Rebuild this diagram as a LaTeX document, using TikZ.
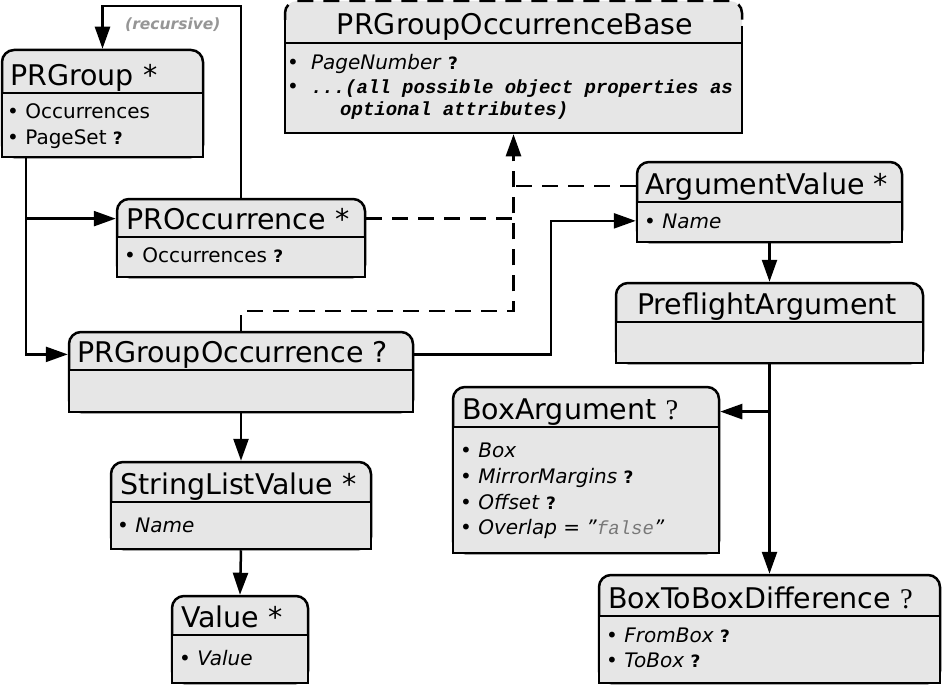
\documentclass[tikz,border=0pt]{standalone}
\usepackage{fontspec}
\setmainfont{DejaVu Sans}
\newfontfamily\monofont{Liberation Mono}
\newfontfamily\seriffont{Liberation Serif}
\usetikzlibrary{arrows.meta,fit}
\definecolor{boxgrey}{RGB}{230,230,230}
\definecolor{notegrey}{RGB}{150,150,150}
\definecolor{valgrey}{RGB}{120,120,120}
\newcommand{\optmark}{{\fontsize{17}{19}\selectfont\bfseries ?}}
\newcommand{\serifq}{{\seriffont ?}}
\newcommand{\monobi}{\monofont\bfseries\itshape\fontsize{19}{22}\selectfont}
\newcommand{\dquote}{\textit{\char"22}}

\tikzset{
  classbox/.style={draw, fill=boxgrey, line width=2.5pt, rounded corners=12pt, inner sep=0pt},
  bodybox/.style={draw, fill=boxgrey, line width=2.5pt},
  classtitle/.style={anchor=base west, inner sep=0pt, font=\fontsize{28.5}{32}\selectfont},
  attrline/.style={anchor=base west, inner sep=0pt, font=\fontsize{20}{24}\selectfont},
  conn/.style={line width=2.5pt, -{Triangle[length=22pt,width=15pt]}},
  dconn/.style={conn, dash pattern=on 16pt off 10pt},
}

\begin{document}
\begin{tikzpicture}[x=1pt, y=-1pt]
  \useasboundingbox (0,0) rectangle (942,685);

  % class boxes: name / left / top / right / divider / bottom / title shift / title
  \foreach \n/\xa/\ya/\xb/\yd/\yb/\dx/\ttl in {
      pgroup/2/50/203/93/157/8/{PRGroup *},
      procc/117/199/365/237/277/9/{PROccurrence *},
      pgocc/69/332/413/370/412/8/{PRGroupOccurrence ?},
      slv/111/462/371/502/549/9/{StringListValue *},
      val/172/596/308/635/683/9/{Value *},
      argval/637/162/902/202/242/8/{ArgumentValue *},
      pfarg/616/283/923/322/363/21/{PreflightArgument},
      boxarg/453/387/719/427/553/9/{BoxArgument \serifq},
      b2b/599/575/940/616/683/9/{BoxToBoxDifference \serifq}} {
    \path (\xa,\ya) coordinate (\n-nw) (\xb,\yb) coordinate (\n-se);
    \node[classbox, fit=(\n-nw)(\n-se)] (\n) {};
    \filldraw[bodybox] (\xa,\yd) rectangle (\xb,\yb);
    \node[classtitle] (\n-t) at (\xa+\dx,\yd-8) {\ttl};
  }

  % the base class, dashed on top
  \path (285,1) coordinate (base-nw) (742,133) coordinate (base-se);
  \node[classbox, draw=none, fit=(base-nw)(base-se)] (base) {};
  \filldraw[bodybox] (285,43) rectangle (742,133);
  \draw[line width=2.5pt] (285,20) -- (285,43) (742,26) -- (742,43);
  \draw[line width=2.5pt, dash pattern=on 16pt off 10pt] (285,20) [rounded corners=12pt] |- (513.5,1) -| (742,26);
  \node[classtitle, anchor=base] (base-t) at (515,35) {PRGroupOccurrenceBase};

  % attributes
  \node[attrline] (pgroup-1) at (7,118) {\textbullet\ Occurrences};
  \node[attrline] (pgroup-2) at (7,144) {\textbullet\ PageSet \optmark};
  \node[attrline] (procc-1) at (124,262) {\textbullet\ Occurrences \optmark};
  \node[attrline] (base-1) at (287,70) {\textbullet\hspace{12pt}\textit{PageNumber} \optmark};
  \node[attrline] (base-2) at (287,93) {\textbullet\hspace{12pt}{\monobi ...(all possible object properties as}};
  \node[attrline, font=\monobi] (base-3) at (340,115) {optional attributes)};
  \node[attrline] (argval-1) at (644,228) {\textbullet\ \textit{Name}};
  \node[attrline] (slv-1) at (117,532) {\textbullet\ \textit{Name}};
  \node[attrline] (val-1) at (179,665) {\textbullet\ \textit{Value}};
  \node[attrline] (boxarg-1) at (460,457) {\textbullet\ \textit{Box}};
  \node[attrline] (boxarg-2) at (460,483) {\textbullet\ \textit{MirrorMargins} \optmark};
  \node[attrline] (boxarg-3) at (460,509) {\textbullet\ \textit{Offset} \optmark};
  \node[attrline] (boxarg-4) at (460,534) {\textbullet\ \textit{Overlap} = \dquote{\monofont\itshape\fontsize{19}{22}\selectfont\color{valgrey}false}\dquote};
  \node[attrline] (b2b-1) at (606,642) {\textbullet\ \textit{FromBox} \optmark};
  \node[attrline] (b2b-2) at (606,667) {\textbullet\ \textit{ToBox} \optmark};

  % recursive loop
  \coordinate (rectop) at (0,6);
  \draw[conn] (procc.north) -- (procc.north |- rectop) -| (pgroup.north);
  \node[anchor=base west, inner sep=0pt, text=notegrey, font=\fontsize{15.5}{18}\selectfont\bfseries\itshape] (rec) at (125,30) {(recursive)};

  % from PRGroup
  \coordinate (trunk) at ([xshift=25pt]pgroup.south west);
  \draw[conn] (trunk) |- (procc.west |- procc-t);
  \draw[conn] (trunk) |- (pgocc.west |- pgocc-t);

  \draw[conn] (pgocc.south) -- (slv.north);
  \draw[conn] (slv.south) -- (val.north);

  % to ArgumentValue
  \coordinate (jog) at (551,0);
  \draw[conn] (pgocc.east |- pgocc-t) -| (jog |- argval-1) -- (argval.west |- argval-1);

  % dashed, to the base
  \draw[dconn] (pgocc.north) -- ++(0,-20) -| (base.south);
  \draw[dconn, -] (procc.east |- procc-t) -- (base.south |- procc-t);
  \draw[dconn, -] (argval.west |- argval-t) -- (base.south |- argval-t);

  \draw[conn] (argval.south) -- (pfarg.north);
  \draw[conn] (pfarg.south) -- (b2b.north);
  \draw[conn] (pfarg.south |- boxarg-t) -- (boxarg.east |- boxarg-t);
\end{tikzpicture}
\end{document}
